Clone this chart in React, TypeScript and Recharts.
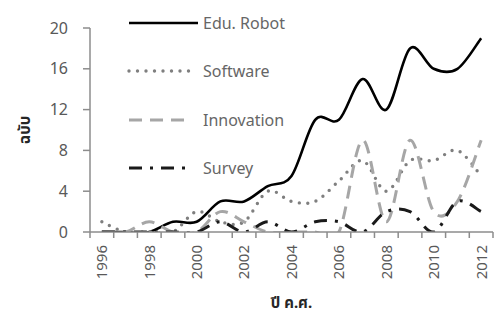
import React from 'react';
import { LineChart, Line, XAxis, YAxis, Legend } from 'recharts';

const years = ['1996', '1997', '1998', '1999', '2000', '2001', '2002', '2003', '2004', '2005', '2006', '2007', '2008', '2009', '2010', '2011', '2012'];
const eduRobot = [0, 0, 0, 1, 1, 3, 3, 4.5, 5.5, 11, 11, 15, 12, 18, 16, 16, 19];
const software = [1, 0, 0, 0, 2, 1, 1, 4, 3, 3, 5, 7, 4, 7, 7, 8, 5.5];
const innovation = [0, 0, 1, 0, 0, 2, 1, 0, 0, 0, 0, 9, 1, 9, 2, 3, 9];
const survey = [0, 0, 0, 0, 0, 1, 0, 1, 0, 1, 1, 0, 2, 2, 0, 3, 2];
const yTicks = [0, 4, 8, 12, 16, 20];
const seriesNames = ['Edu. Robot', 'Software', 'Innovation', 'Survey'];
const yTitle = 'ฉบับ';
const xTitle = 'ปี ค.ศ.';

const data = years.map((y, i) => ({
  year: y,
  edu: eduRobot[i],
  sw: software[i],
  inno: innovation[i],
  survey: survey[i],
}));

const W = 496;
const H = 312;
const M = { top: 28, right: 3, bottom: 0, left: 0 };
const YW = 90;
const XH = 80;
const plotW = W - M.left - M.right - YW;
const band = plotW / years.length;

const FONT = "'Noto Sans', 'Noto Sans Thai', Tahoma, 'DejaVu Sans', sans-serif";
const TEXT = '#595959';
const AXIS = '#8c8c8c';

const series = [
  { key: 'edu', name: seriesNames[0], stroke: '#000000', width: 2.6, dash: undefined as string | undefined, cap: 'butt', len: 69 },
  { key: 'sw', name: seriesNames[1], stroke: '#7f7f7f', width: 3.4, dash: '0 8.5', cap: 'round', len: 66 },
  { key: 'inno', name: seriesNames[2], stroke: '#a6a6a6', width: 3, dash: '13 8', cap: 'butt', len: 57 },
  { key: 'survey', name: seriesNames[3], stroke: '#1a1a1a', width: 3, dash: '13 8 3 8', cap: 'butt', len: 61 },
];

// Catmull-Rom style smoothing (similar to Excel smoothed lines)
const smoothCurve: any = (context: any) => {
  let pts: number[][] = [];
  return {
    areaStart() {},
    areaEnd() {},
    lineStart() {
      pts = [];
    },
    point(x: number, y: number) {
      pts.push([+x, +y]);
    },
    lineEnd() {
      if (!pts.length) return;
      context.moveTo(pts[0][0], pts[0][1]);
      for (let i = 0; i < pts.length - 1; i++) {
        const p0 = pts[i - 1] || pts[i];
        const p1 = pts[i];
        const p2 = pts[i + 1];
        const p3 = pts[i + 2] || p2;
        context.bezierCurveTo(
          p1[0] + (p2[0] - p0[0]) / 6,
          p1[1] + (p2[1] - p0[1]) / 6,
          p2[0] - (p3[0] - p1[0]) / 6,
          p2[1] - (p3[1] - p1[1]) / 6,
          p2[0],
          p2[1]
        );
      }
    },
  };
};

const XTick = (props: any) => {
  const { x, y, payload } = props;
  const idx = payload.index;
  const isLast = idx === years.length - 1;
  const showLabel = idx % 2 === 0;
  return (
    <g>
      <line x1={x - band / 2} y1={y} x2={x - band / 2} y2={y + 6} stroke={AXIS} strokeWidth={1.5} />
      {isLast && <line x1={x + band / 2} y1={y} x2={x + band / 2} y2={y + 6} stroke={AXIS} strokeWidth={1.5} />}
      {showLabel && (
        <g transform={`translate(${x},${y + 13}) rotate(-90)`}>
          <text textAnchor="end" dy="0.36em" fill={TEXT} fontSize={15} fontFamily={FONT}>
            {payload.value}
          </text>
        </g>
      )}
    </g>
  );
};

const renderLegend = () => (
  <div style={{ position: 'relative', width: 260, height: 190 }}>
    {series.map((s, i) => (
      <div
        key={s.key}
        style={{ position: 'absolute', left: 0, top: i * 48.5, height: 24, display: 'flex', alignItems: 'center' }}
      >
        <svg width={72} height={24} style={{ display: 'block' }}>
          <line
            x1={3}
            y1={12}
            x2={3 + s.len}
            y2={12}
            stroke={s.stroke}
            strokeWidth={s.width}
            strokeDasharray={s.dash}
            strokeLinecap={s.cap as any}
          />
        </svg>
        <span style={{ marginLeft: 5, fontSize: 16, color: '#666666', fontFamily: FONT, whiteSpace: 'nowrap' }}>{s.name}</span>
      </div>
    ))}
  </div>
);

export default function App() {
  return (
    <div style={{ position: 'absolute', left: 0, top: 0, width: W, height: H, background: '#fff' }}>
      <LineChart width={W} height={H} data={data} margin={M}>
        <XAxis
          dataKey="year"
          type="category"
          height={XH}
          interval={0}
          tickLine={false}
          tickSize={0}
          tickMargin={0}
          axisLine={{ stroke: AXIS, strokeWidth: 1.5 }}
          padding={{ left: band / 2, right: band / 2 }}
          tick={<XTick />}
          label={{ value: xTitle, position: 'insideBottom', offset: 4, fill: '#262626', fontSize: 15, fontWeight: 'bold', fontFamily: FONT }}
        />
        <YAxis
          width={YW}
          domain={[0, 20]}
          allowDataOverflow
          ticks={yTicks}
          interval={0}
          tickSize={7}
          tickMargin={15}
          axisLine={{ stroke: AXIS, strokeWidth: 1.5 }}
          tickLine={{ stroke: AXIS, strokeWidth: 1.5 }}
          tick={{ fill: TEXT, fontSize: 16, fontFamily: FONT }}
          label={{ value: yTitle, angle: -90, position: 'insideLeft', offset: 25, fill: '#262626', fontSize: 15, fontWeight: 'bold', fontFamily: FONT, style: { textAnchor: 'middle' } }}
        />
        <Legend
          layout="horizontal"
          verticalAlign="middle"
          align="center"
          content={renderLegend}
          wrapperStyle={{ left: 126, top: 10.5, width: 260, height: 190 }}
        />
        {series.map((s) => (
          <Line
            key={s.key}
            dataKey={s.key}
            name={s.name}
            type={smoothCurve}
            stroke={s.stroke}
            strokeWidth={s.width}
            strokeDasharray={s.dash}
            strokeLinecap={s.cap as any}
            dot={false}
            activeDot={false}
            isAnimationActive={false}
          />
        ))}
      </LineChart>
    </div>
  );
}
